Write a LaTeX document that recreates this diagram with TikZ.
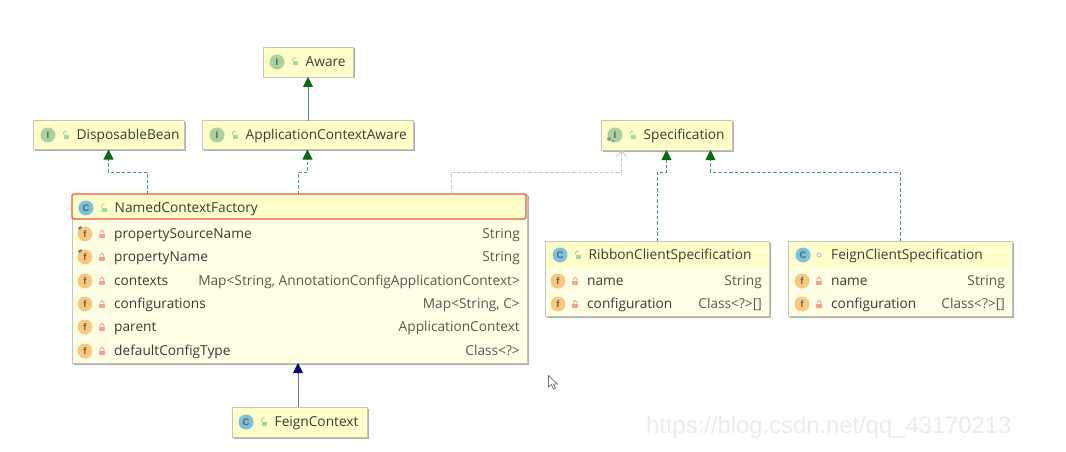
\documentclass[tikz,border=0pt]{standalone}
\usepackage{fontspec}
\setmainfont{Open Sans}
\newfontfamily\markfont{Liberation Sans}
\usetikzlibrary{arrows.meta,calc,shadows}
\definecolor{Ink}{HTML}{3A3A36}
\definecolor{BodyFill}{HTML}{FFFFE6}
\definecolor{HeadFill}{HTML}{FFFFC9}
\definecolor{EdgeGray}{HTML}{C4C4B8}
\definecolor{HeadRed}{HTML}{E9533F}
\definecolor{LineGreen}{HTML}{4C9A6A}
\definecolor{TipGreen}{HTML}{0A6B12}
\definecolor{LineBlue}{HTML}{6C74A8}
\definecolor{TipBlue}{HTML}{0A0A78}
\definecolor{LineGray}{HTML}{C6C6C6}
\definecolor{IfaceGreen}{HTML}{A8D29E}
\definecolor{ClassBlue}{HTML}{79C3DC}
\definecolor{FieldOrange}{HTML}{F9C77F}
\definecolor{LockRed}{HTML}{F0A58C}
\definecolor{OpenGreen}{HTML}{A5D6A0}
\tikzset{
  umlbox/.style={draw=EdgeGray,line width=0.8pt,inner sep=0pt,outer sep=0pt,
    drop shadow={shadow xshift=1.5pt,shadow yshift=-1.5pt,fill=black!45,opacity=0.7}},
  headbar/.style={fill=HeadFill,inner sep=0pt,outer sep=0pt},
  iconmark/.style={circle,inner sep=0pt,minimum size=15pt,font=\markfont\fontsize{9.5}{10}\selectfont\bfseries,text=Ink!80},
  classlabel/.style={anchor=west,inner sep=0pt,text height=11.5pt,text depth=3pt,font=\fontsize{13.7}{15}\selectfont,text=Ink},
  typelabel/.style={anchor=east,inner sep=0pt,text height=11.5pt,text depth=3pt,font=\fontsize{13.7}{15}\selectfont,text=Ink!85},
  greenlink/.style={draw=LineGreen,line width=0.9pt,-{Triangle[width=10pt,length=10pt,color=TipGreen]}},
  greendash/.style={greenlink,dash pattern=on 3.5pt off 2pt},
  graydash/.style={draw=LineGray,line width=0.9pt,dash pattern=on 3.5pt off 2pt,-{Straight Barb[width=10pt,length=6pt,color=LineGray]}},
  bluelink/.style={draw=LineBlue,line width=0.9pt,-{Triangle[width=10pt,length=10pt,color=TipBlue]}}
}
\newcommand{\OpenLock}[2]{%
  \fill[OpenGreen] (#1-1.5,#2-0.5) rectangle (#1+4,#2+3.5);%
  \draw[OpenGreen,line width=0.9pt] (#1-1.5,#2-0.5) -- (#1-1.5,#2-2.5) arc[start angle=180,end angle=30,radius=1.6pt];%
}
\newcommand{\ClosedLock}[2]{%
  \fill[LockRed] (#1-3,#2-0.5) rectangle (#1+3,#2+4);%
  \draw[LockRed,line width=0.9pt] (#1-1.8,#2-0.5) -- (#1-1.8,#2-2) arc[start angle=180,end angle=0,radius=1.8pt] -- (#1+1.8,#2-0.5);%
}
\newcommand{\TitleRow}[6]{%
  \node[iconmark,fill=#2] (#1-icon) at (#4,#5) {#3};%
  \OpenLock{#4+17}{#5}%
  \node[classlabel] (#1-title) at (#4+28.5,#5) {#6};%
}
\newcommand{\FieldRow}[6]{%
  \node[iconmark,fill=FieldOrange] (#1-icon) at (#2,#3) {f};%
  \ClosedLock{#2+17}{#3}%
  \node[classlabel] (#1-name) at (#2+29,#3) {#4};%
  \node[typelabel] (#1-type) at (#5,#3) {#6};%
}

\begin{document}
\begin{tikzpicture}[x=1pt,y=-1pt]
\useasboundingbox (0,0) rectangle (1066,452);
\foreach \id/\cx/\cy/\w/\h/\c in {aware/308/62/90/30/HeadFill,disposable/108.5/135/151/29/HeadFill,appaware/307.5/135/211/29/HeadFill,factory/299.5/278.5/455/169/BodyFill,feigncontext/299.5/422/135/30/HeadFill,spec/666.5/135/131/30/HeadFill,ribbon/657/278.5/224/75/BodyFill,feignspec/900/278.5/224/75/BodyFill} {
  \node[umlbox,fill=\c,minimum width=\w pt,minimum height=\h pt] (\id) at (\cx,\cy) {};
}
\node[headbar,minimum width=222.5pt,minimum height=26pt] (ribbonhead) at (657,254.5) {};
\node[headbar,minimum width=222.5pt,minimum height=26pt] (feignhead) at (900,254.5) {};
\node[draw=HeadRed,fill=HeadFill,line width=1.2pt,rounded corners=1.5pt,inner sep=0pt,outer sep=0pt,minimum width=454pt,minimum height=25pt] (factoryhead) at (299,206.5) {};

\TitleRow{aware}{IfaceGreen}{I}{277}{62}{Aware}
\TitleRow{disposable}{IfaceGreen}{I}{48}{135}{DisposableBean}
\TitleRow{appaware}{IfaceGreen}{I}{217}{135}{ApplicationContextAware}
\TitleRow{spec}{IfaceGreen}{I}{615}{135}{Specification}
\TitleRow{factory}{ClassBlue}{C}{86}{208}{NamedContextFactory}
\TitleRow{feigncontext}{ClassBlue}{C}{246}{422}{FeignContext}
\TitleRow{ribbon}{ClassBlue}{C}{560}{255}{RibbonClientSpecification}
\node[iconmark,fill=ClassBlue] (feignspec-icon) at (803,255) {C};
\node[circle,draw=black!30,fill=white,line width=0.7pt,inner sep=0pt,minimum size=4pt] (feignspec-dot) at (819,255) {};
\node[classlabel] (feignspec-title) at (831,255) {FeignClientSpecification};

\foreach \id/\y/\f/\t in {psn/234/propertySourceName/String,pn/257/propertyName/String,ctx/281/contexts/{Map<String, AnnotationConfigApplicationContext>},cfgs/304/configurations/{Map<String, C>},par/327/parent/ApplicationContext,dct/351/defaultConfigType/{Class<?>}} {
  \FieldRow{\id}{85}{\y}{\f}{520}{\t}
}
\FieldRow{ribbonname}{558}{281}{name}{762}{String}
\FieldRow{ribboncfg}{558}{304}{configuration}{762}{Class<?>[]}
\FieldRow{feignname}{802}{281}{name}{1005}{String}
\FieldRow{feigncfg}{802}{304}{configuration}{1005}{Class<?>[]}

\fill[Ink!70] (78,228) -- (81,226) -- (82,228) -- (79,230) -- cycle;
\fill[Ink!70] (78,251) -- (81,249) -- (82,251) -- (79,253) -- cycle;
\fill[Ink!55] (609,139) circle (2pt);
\fill[Ink!55] (613,141) circle (1.5pt);

\draw[greenlink] (appaware.north -| aware.south) -- (aware.south);
\draw[greendash] ([xshift=75pt]factoryhead.north west) -- ++(0,-22) -| (disposable.south);
\draw[greendash] ([xshift=-1pt]factoryhead.north) -- ++(0,-22) -| (appaware.south);
\draw[graydash] ([xshift=379pt]factoryhead.north west) -- ++(0,-22) -| ([xshift=-45pt]spec.south);
\draw[greendash] (ribbon.north) -- ++(0,-69) -| (spec.south);
\draw[greendash] (feignspec.north) -- ++(0,-69) -| ([xshift=44pt]spec.south);
\draw[bluelink] ([xshift=-1.5pt]feigncontext.north) -- ([xshift=-1.5pt]factory.south);

\draw[fill=white,draw=black!55,line width=0.7pt] (548.5,375.5) -- (548.5,387) -- (551.5,384.5) -- (553.5,389) -- (555.5,388) -- (553.5,384) -- (557.5,384) -- cycle;
\node[anchor=west,inner sep=0pt,font=\markfont\fontsize{23.8}{26}\selectfont,text=black!8] (watermark) at (646,427) {https://blog.csdn.net/qq\_43170213};
\end{tikzpicture}
\end{document}
